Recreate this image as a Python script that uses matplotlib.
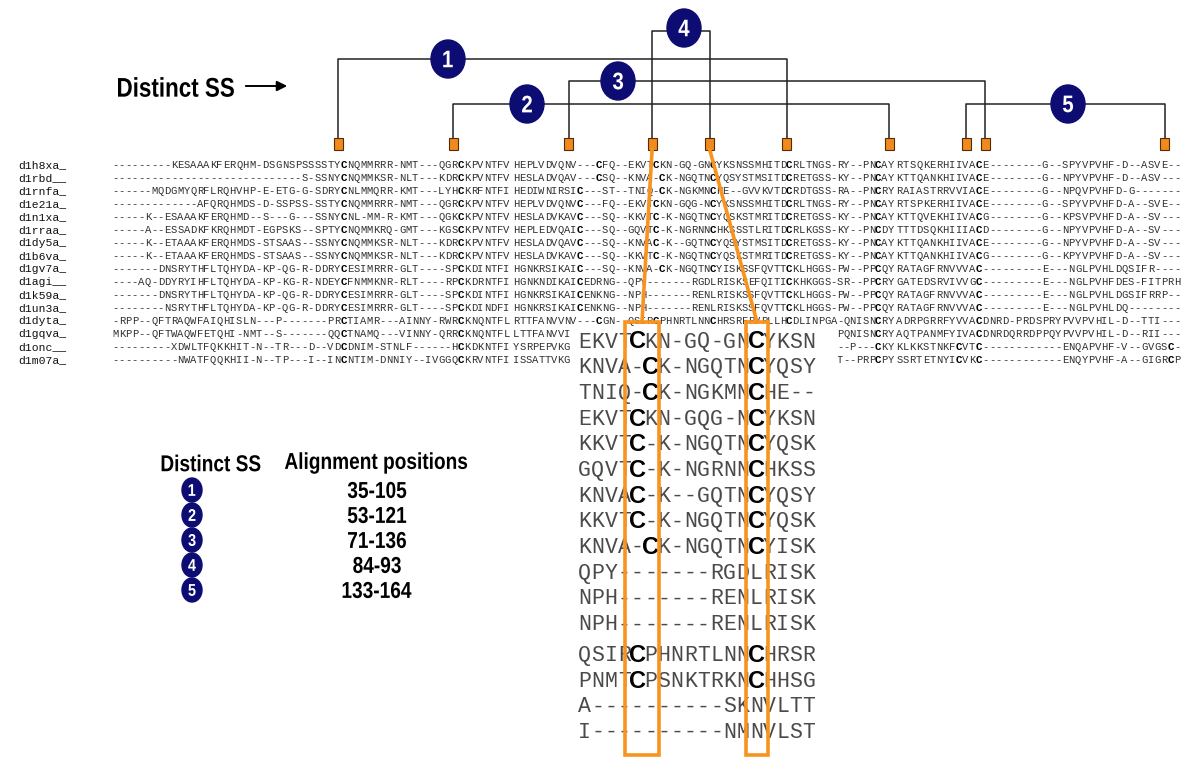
import matplotlib
matplotlib.use("Agg")
import matplotlib.pyplot as plt
from matplotlib.patches import Ellipse, Rectangle, PathPatch
from matplotlib.textpath import TextPath
from matplotlib.font_manager import FontProperties
from matplotlib.transforms import Affine2D

# sequence names and the three alignment blocks
names = ["d1h8xa_", "d1rbd__", "d1rnfa_", "d1e21a_", "d1n1xa_", "d1rraa_", "d1dy5a_", "d1b6va_",
         "d1gv7a_", "d1agi__", "d1k59a_", "d1un3a_", "d1dyta_", "d1gqva_", "d1onc__", "d1m07a_"]

block_a = [
    "---------KESAAAKFERQHM-DSGNSPSSSSTYCNQMMRRR-NMT---QGRCKPVNTFV",
    "-----------------------------S-SSNYCNQMMKSR-NLT---KDRCKPVNTFV",
    "------MQDGMYQRFLRQHVHP-E-ETG-G-SDRYCNLMMQRR-KMT---LYHCKRFNTFI",
    "-------------AFQRQHMDS-D-SSPSS-SSTYCNQMMRRR-NMT---QGRCKPVNTFV",
    "-----K--ESAAAKFERQHMD--S---G---SSNYCNL-MM-R-KMT---QGKCKPVNTFV",
    "-----A--ESSADKFKRQHMDT-EGPSKS--SPTYCNQMMKRQ-GMT---KGSCKPVNTFV",
    "-----K--ETAAAKFERQHMDS-STSAAS--SSNYCNQMMKSR-NLT---KDRCKPVNTFV",
    "-----K--ETAAAKFERQHMDS-STSAAS--SSNYCNQMMKSR-NLT---KDRCKPVNTFV",
    "-------DNSRYTHFLTQHYDA-KP-QG-R-DDRYCESIMRRR-GLT----SPCKDINTFI",
    "----AQ-DDYRYIHFLTQHYDA-KP-KG-R-NDEYCFNMMKNR-RLT----RPCKDRNTFI",
    "-------DNSRYTHFLTQHYDA-KP-QG-R-DDRYCESIMRRR-GLT----SPCKDINTFI",
    "--------NSRYTHFLTQHYDA-KP-QG-R-DDRYCESIMRRR-GLT----SPCKDINDFI",
    "-RPP--QFTRAQWFAIQHISLN---P-------PRCTIAMR---AINNY-RWRCKNQNTFL",
    "MKPP--QFTWAQWFETQHI-NMT--S-------QQCTNAMQ---VINNY-QRRCKNQNTFL",
    "---------XDWLTFQKKHIT-N--TR---D--VDCDNIM-STNLF------HCKDKNTFI",
    "----------NWATFQQKHII-N--TP---I--INCNTIM-DNNIY--IVGGQCKRVNTFI",
]

block_b = [
    "HEPLVDVQNV---CFQ--EKVTCKN-GQ-GNCYKSNSSMHITDCRLTNGS-RY--PNCAY",
    "HESLADVQAV---CSQ--KNVA-CK-NGQTNCYQSYSTMSITDCRETGSS-KY--PNCAY",
    "HEDIWNIRSIC---ST--TNIQ-CK-NGKMNCHE--GVVKVTDCRDTGSS-RA--PNCRY",
    "HEPLVDVQNVC---FQ--EKVTCKN-GQG-NCYKSNSSMHITDCRLTNGS-RY--PNCAY",
    "HESLADVKAVC---SQ--KKVTC-K-NGQTNCYQSKSTMRITDCRETGSS-KY--PNCAY",
    "HEPLEDVQAIC---SQ--GQVTC-K-NGRNNCHKSSSTLRITDCRLKGSS-KY--PNCDY",
    "HESLADVQAVC---SQ--KNVAC-K--GQTNCYQSYSTMSITDCRETGSS-KY--PNCAY",
    "HESLADVKAVC---SQ--KKVTC-K-NGQTNCYQSKSTMRITDCRETGSS-KY--PNCAY",
    "HGNKRSIKAIC---SQ--KNVA-CK-NGQTNCYISKSSFQVTTCKLHGGS-PW--PPCQY",
    "HGNKNDIKAICEDRNG--QPY-------RGDLRISKSEFQITICKHKGGS-SR--PPCRY",
    "HGNKRSIKAICENKNG--NPH-------RENLRISKSSFQVTTCKLHGGS-PW--PPCQY",
    "HGNKRSIKAICENKNG--NPH-------RENLRISKSSFQVTTCKLHGGS-PW--PPCQY",
    "RTTFANVVNV---CGN--QSIRCPHNRTLNNCHRSRFRVPLLHCDLINPGA-QNISNCRY",
    "LTTFANVVI----CGN--PNMTCPSNKTRKNCHHSGFRVPLLHCDLINPG-PQNISNCRY",
    "YSRPEPVKG-----CGN--A----------SKNVLTTGSGDLLHCDLNPG---P---CKY",
    "ISSATTVKG-----CGN--I----------NMNVLSTGSGDLLHCDLNPG-T--PRPCPY",
]

block_c = [
    "RTSQKERHIIVACE--------G--SPYVPVHF-D--ASVE--",
    "KTTQANKHIIVACE--------G--NPYVPVHF-D--ASV---",
    "RAIASTRRVVIACE--------G--NPQVPVHFD-G-------",
    "RTSPKERHIIVACE--------G--SPYVPVHFD-A--SVE--",
    "KTTQVEKHIIVACG--------G--KPSVPVHFD-A--SV---",
    "TTTDSQKHIIIACD--------G--NPYVPVHFD-A--SV---",
    "KTTQANKHIIVACE--------G--NPYVPVHFD-A--SV---",
    "KTTQANKHIIVACG--------G--KPYVPVHFD-A--SV---",
    "RATAGFRNVVVAC---------E---NGLPVHLDQSIFR----",
    "GATEDSRVIVVGC---------E---NGLPVHFDES-FITPRH",
    "RATAGFRNVVVAC---------E---NGLPVHLDGSIFRRP--",
    "RATAGFRNVVVAC---------E---NGLPVHLDQ--------",
    "ADRPGRRFYVVACDNRD-PRDSPRYPVVPVHIL-D--TTI---",
    "AQTPANMFYIVACDNRDQRRDPPQYPVVPVHIL-D--RII---",
    "KLKKSTNKFCVTC------------ENQAPVHF-V--GVGSC-",
    "SSRTETNYICVKC------------ENQYPVHF-A--GIGRCP",
]

# enlarged window around SS bond 4
inset_rows = [
    "EKVTCKN-GQ-GNCYKSN", "KNVA-CK-NGQTNCYQSY", "TNIQ-CK-NGKMNCHE--", "EKVTCKN-GQG-NCYKSN",
    "KKVTC-K-NGQTNCYQSK", "GQVTC-K-NGRNNCHKSS", "KNVAC-K--GQTNCYQSY", "KKVTC-K-NGQTNCYQSK",
    "KNVA-CK-NGQTNCYISK", "QPY-------RGDLRISK", "NPH-------RENLRISK", "NPH-------RENLRISK",
    "QSIRCPHNRTLNNCHRSR", "PNMTCPSNKTRKNCHHSG", "A----------SKNVLTT", "I----------NMNVLST",
]

# disulfide bonds: alignment positions
ss_id = [1, 2, 3, 4, 5]
ss_from = [35, 53, 71, 84, 133]
ss_to = [105, 121, 136, 93, 164]

# layout
bond_y = [59, 104, 81, 31, 104]
label_x = [448, 527, 618, 684, 1068]
navy = "#0c0c72"
orange = "#f7931e"

fig = plt.figure(figsize=(12, 7.64), dpi=100)
ax = fig.add_axes([0, 0, 1, 1])
ax.set_xlim(0, 1200)
ax.set_ylim(764, 0)
ax.axis("off")

bold = FontProperties(family="Liberation Sans", weight="bold")


def narrow(x, y, s, px, sx=0.83, ha="center", color="black", z=5):
    # bold text squeezed sideways, like the condensed font of the original
    tp = TextPath((0, 0), s, size=px, prop=bold)
    ext = tp.get_extents()
    dx = -(ext.x0 + ext.x1) / 2 if ha == "center" else -ext.x0
    dy = -(ext.y0 + ext.y1) / 2
    tr = Affine2D().translate(dx, dy).scale(sx, -1).translate(x, y)
    ax.add_patch(PathPatch(tr.transform_path(tp), facecolor=color, lw=0, zorder=z))


def pos_x(p):
    return 338 + (p - 35) * 6.41


# --- bond diagram on top
sq_top = 138
for k in range(len(ss_id)):
    xa, xb, yl = pos_x(ss_from[k]), pos_x(ss_to[k]), bond_y[k]
    ax.plot([xa, xa, xb, xb], [sq_top, yl, yl, sq_top], color="#222222", lw=1.1, zorder=2)
for p in sorted(set(ss_from + ss_to)):
    ax.add_patch(Rectangle((pos_x(p) - 4.5, sq_top), 9, 12, facecolor="#f08a1c",
                           edgecolor="#5a2a00", lw=0.8, zorder=3))
for k in range(len(ss_id)):
    cy = bond_y[k] - (3 if ss_id[k] == 4 else 0)
    ax.add_patch(Ellipse((label_x[k], cy), 34, 38, facecolor=navy, edgecolor=navy, zorder=4))
    narrow(label_x[k], cy, str(ss_id[k]), 24, sx=0.85, color="white")

narrow(118, 87, "Distinct SS", 27, sx=0.83, ha="left")
ax.annotate("", xy=(290, 86), xytext=(243, 86),
            arrowprops=dict(arrowstyle="-|>", color="black", lw=1.4, mutation_scale=15))

# --- alignment
row_y0, row_dy = 165, 13
blocks = [(block_a, 112, 6.52), (block_b, 513, 6.35), (block_c, 896, 6.62)]
for r, name in enumerate(names):
    y = row_y0 + r * row_dy
    ax.text(18, y, name, family="Liberation Mono", fontsize=8.2, ha="left", va="center",
            color="#111111")
    for blk, left, cw in blocks:
        for i, ch in enumerate(blk[r]):
            x = left + (i + 0.5) * cw
            if ch == "C":
                ax.text(x, y, ch, family="Liberation Mono", fontsize=7.8, weight="bold",
                        ha="center", va="center", color="black")
            else:
                ax.text(x, y, ch, family="Liberation Mono", fontsize=7.6,
                        ha="center", va="center", color="#303030")

# --- inset
ax.add_patch(Rectangle((572, 327), 266, 437, facecolor="white", edgecolor="none", zorder=6))
ins_x0, ins_cw = 578, 13.2
for r, s in enumerate(inset_rows):
    y = 342 + r * 25.7 + (5 if r >= 12 else 0)
    for i, ch in enumerate(s):
        x = ins_x0 + (i + 0.5) * ins_cw
        if ch == "C":
            ax.text(x, y, ch, family="Liberation Sans", weight="bold", fontsize=17,
                    ha="center", va="center", color="black", zorder=7)
        else:
            ax.text(x, y, ch, family="Liberation Mono", fontsize=15.5,
                    ha="center", va="center", color="#4a4a4a", zorder=7)

for bx0, bx1 in [(625, 659), (746, 768)]:
    ax.add_patch(Rectangle((bx0, 322), bx1 - bx0, 433, fill=False, edgecolor=orange,
                           lw=2.6, zorder=8))
ax.plot([pos_x(84), 642], [150, 322], color=orange, lw=2.6, zorder=8)
ax.plot([pos_x(93), 757], [150, 322], color=orange, lw=2.6, zorder=8)

# --- legend table
narrow(211, 463, "Distinct SS", 23)
narrow(376, 463, "Alignment positions", 23)
for k in range(len(ss_id)):
    y = 490 + k * 25
    ax.add_patch(Ellipse((192, y), 20, 24, facecolor=navy, edgecolor=navy, zorder=4))
    narrow(192, y, str(ss_id[k]), 17, sx=0.85, color="white")
    narrow(377, y, f"{ss_from[k]}-{ss_to[k]}", 23)

fig.savefig("out.png", dpi=100)
